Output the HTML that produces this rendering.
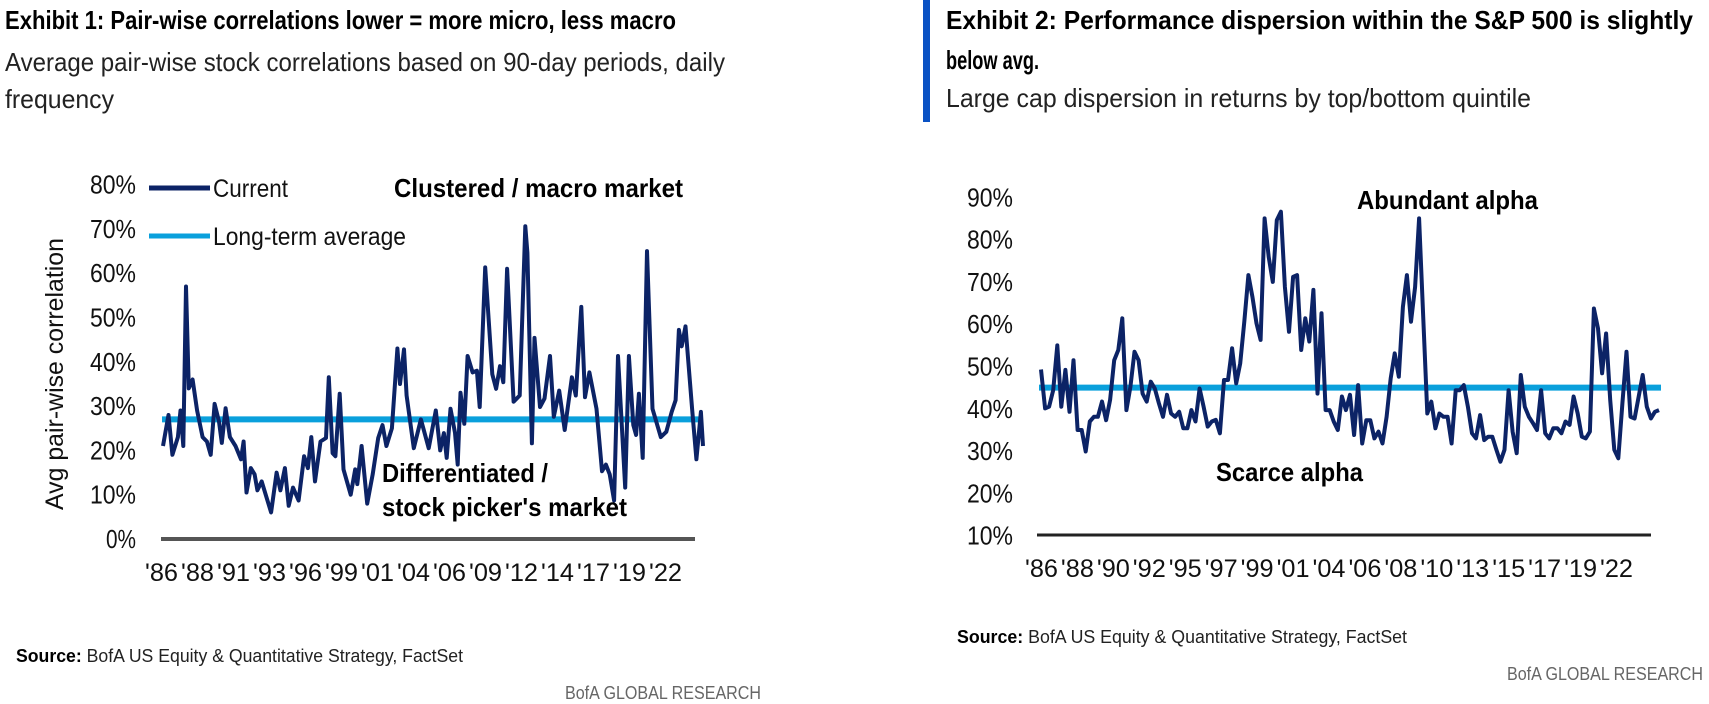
<!DOCTYPE html>
<html><head><meta charset="utf-8"><style>
html,body{margin:0;padding:0;background:#fff;width:1709px;height:704px;overflow:hidden}
svg{display:block;font-family:"Liberation Sans",Arial,sans-serif}
</style></head><body>
<svg id="root" width="1709" height="704" viewBox="0 0 1709 704">
<g>
<text x="5" y="29" font-size="26" font-weight="bold" textLength="671" lengthAdjust="spacingAndGlyphs" fill="#000">Exhibit 1: Pair-wise correlations lower = more micro, less macro</text>
<text x="5" y="71" font-size="26" textLength="720" lengthAdjust="spacingAndGlyphs" fill="#222">Average pair-wise stock correlations based on 90-day periods, daily</text>
<text x="5" y="108" font-size="26" textLength="109" lengthAdjust="spacingAndGlyphs" fill="#222">frequency</text>
</g>
<g>
<rect x="923" y="0" width="7" height="122" fill="#0a52c4"/>
<text x="946" y="29" font-size="26" font-weight="bold" textLength="747" lengthAdjust="spacingAndGlyphs" fill="#000">Exhibit 2: Performance dispersion within the S&amp;P 500 is slightly</text>
<text x="946" y="69" font-size="26" font-weight="bold" textLength="93" lengthAdjust="spacingAndGlyphs" fill="#000">below avg.</text>
<text x="946" y="107" font-size="26" textLength="585" lengthAdjust="spacingAndGlyphs" fill="#222">Large cap dispersion in returns by top/bottom quintile</text>
</g>
<g id="c1"></g>
<g id="c2"></g>
<text x="16" y="662" font-size="18" textLength="447" lengthAdjust="spacingAndGlyphs" fill="#222"><tspan font-weight="bold" fill="#000">Source:</tspan> BofA US Equity &amp; Quantitative Strategy, FactSet</text>
<text x="565" y="699" font-size="18" textLength="196" lengthAdjust="spacingAndGlyphs" fill="#666">BofA GLOBAL RESEARCH</text>
<text x="957" y="643" font-size="18" textLength="450" lengthAdjust="spacingAndGlyphs" fill="#222"><tspan font-weight="bold" fill="#000">Source:</tspan> BofA US Equity &amp; Quantitative Strategy, FactSet</text>
<text x="1507" y="680" font-size="18" textLength="196" lengthAdjust="spacingAndGlyphs" fill="#666">BofA GLOBAL RESEARCH</text>
</svg>
<script>
// ---- Chart 1 data ----
const c1Years = [1986.0,1986.39,1986.67,1987.06,1987.25,1987.45,1987.64,1987.84,1988.11,1988.43,1988.82,1989.13,1989.40,1989.68,1989.99,1990.19,1990.46,1990.77,1991.17,1991.56,1991.75,1991.95,1992.26,1992.53,1992.73,1993.04,1993.32,1993.71,1994.10,1994.37,1994.69,1994.96,1995.27,1995.67,1996.06,1996.33,1996.57,1996.84,1997.23,1997.62,1997.82,1998.09,1998.29,1998.60,1998.87,1999.38,1999.70,1999.85,2000.16,2000.56,2000.95,2001.34,2001.65,2001.93,2002.32,2002.71,2002.90,2003.18,2003.37,2003.88,2004.39,2004.94,2005.45,2005.76,2006.03,2006.23,2006.50,2006.82,2007.01,2007.21,2007.48,2007.72,2008.07,2008.38,2008.58,2008.97,2009.48,2009.75,2010.03,2010.26,2010.53,2011.00,2011.43,2011.83,2011.98,2012.30,2012.49,2012.88,2013.20,2013.59,2013.86,2014.25,2014.64,2015.15,2015.43,2015.82,2016.09,2016.40,2016.91,2017.30,2017.58,2017.85,2018.16,2018.44,2018.95,2019.22,2019.53,2019.73,2019.93,2020.20,2020.51,2020.90,2021.49,2021.88,2022.27,2022.55,2022.78,2022.98,2023.25,2023.72,2024.03,2024.35,2024.50];
const c1Values = [21,28,19,23,29,21,57,34,36,29,23,22,19,30.5,26.5,21.7,29.5,23,21,18,22,10.5,16,14.6,11,13,10,6,15,11,16,7.5,11.6,8.7,18.7,16,23,13,22,22.8,36.5,19.4,18.7,32.8,15.7,10,15.7,12.4,21,8,14.6,22.8,25.7,21,25,43,35,42.8,32.4,20.5,27,20.5,29,20,23.9,18.3,29.4,24,16.8,33,26,41.3,37.6,38,29.8,61.3,37.2,33.9,39,35.4,61,31,32.4,70.6,64.6,21.6,45.4,29.8,31.7,41.3,27.6,33.5,24.6,36.5,32.4,52.4,32,37.6,29.4,15.3,16.8,14.6,8.7,41.3,11.6,41.3,25.7,23.5,32.8,18.3,65,29.4,23,24.2,28.7,31.3,47.2,43.5,48,29.4,18,28.7,21];
const c1Average = [27];
const c1YTicks = [0,10,20,30,40,50,60,70,80];
const c1XLabels = ["'86","'88","'91","'93","'96","'99","'01","'04","'06","'09","'12","'14","'17","'19","'22"];
// ---- Chart 2 data (evenly spaced observations, 1986 to mid-2024) ----
const c2Values = [49.3,40.1,40.5,44.4,55,40.5,49.2,39.3,51.5,35,35,29.9,37,38.1,38.1,41.7,37.3,42.1,51.5,53.9,61.4,39.7,45.2,53.5,51.5,43.6,41.7,46.4,44.8,41.3,38.1,43.3,38.9,38.1,39.3,35.4,35.4,39.7,37,44.8,40.5,35.8,37,37.4,34.2,46.8,46.8,54.3,46,50.7,60.6,71.6,66.5,60.2,56.3,85,75.9,70,84.6,86.6,68.8,58.2,71.2,71.6,53.9,61.4,55.9,68.1,43.6,62.6,39.7,39.7,37,35,42.9,39.7,43.3,33.8,45.6,31.8,37.3,37.3,33,34.6,31.8,38.1,47.2,53.1,47.6,64.1,71.6,60.6,68.8,85,61.8,38.9,41.7,35.4,38.9,38.1,38.1,31.8,44.4,44.4,45.6,40.5,34.2,33,38.5,32.6,33.4,33.4,30.3,27.5,30.3,44.4,34.6,29.5,48,40.5,38.1,36.6,35,44.4,34.2,33,35.4,35.4,34.2,37,36.2,42.9,38.9,33.4,33,34.6,63.7,59,48.4,57.8,42.1,30.3,28.3,41.3,53.5,38.1,37.7,42.9,48,40.5,37.7,39.3,39.7];
const c2Start = [1986.0];
const c2End = [2024.5];
const c2Average = [45];
const c2YTicks = [10,20,30,40,50,60,70,80,90];
const c2XLabels = ["'86","'88","'90","'92","'95","'97","'99","'01","'04","'06","'08","'10","'13","'15","'17","'19","'22"];

const NS = "http://www.w3.org/2000/svg";
function mk(tag, attrs, parent){const e=document.createElementNS(NS,tag);for(const k in attrs)e.setAttribute(k,attrs[k]);parent.appendChild(e);return e;}

// ---------- Chart 1 ----------
(function(){
  const g = document.getElementById('c1');
  const x0=163,x1=703,yr0=1986,yr1=2024.5;
  const X = yr => x0+(yr-yr0)/(yr1-yr0)*(x1-x0);
  const Y = v => 539 - v*4.43;
  c1YTicks.forEach(t=>{
    const e=mk('text',{x:136,y:Y(t)+9,'font-size':26,'text-anchor':'end',fill:'#111',textLength:(t===0?30:46),lengthAdjust:'spacingAndGlyphs'},g);
    e.textContent=t+'%';
    
    
  });
  const ax=mk('line',{x1:161,x2:695,y1:539,y2:539,stroke:'#555','stroke-width':4},g);
  
  
  const step=(685-145)/c1XLabels.length;
  c1XLabels.forEach((l,i)=>{
    const e=mk('text',{x:145+i*step,y:581,'font-size':25,fill:'#111',textLength:step-3,lengthAdjust:'spacingAndGlyphs'},g);
    e.textContent=l;
    
    
  });
  const yt=mk('text',{x:0,y:0,'font-size':25,fill:'#111','text-anchor':'middle',textLength:272,lengthAdjust:'spacingAndGlyphs',transform:'translate(63,374) rotate(-90)'},g);
  yt.textContent='Avg pair-wise correlation';
  
  
  const avg=mk('line',{x1:162,x2:703,y1:Y(c1Average[0]),y2:Y(c1Average[0]),stroke:'#0aa0dc','stroke-width':6},g);
  
  
  const pts=c1Years.map((yr,i)=>X(yr).toFixed(1)+','+Y(c1Values[i]).toFixed(1)).join(' ');
  const pl=mk('polyline',{points:pts,fill:'none',stroke:'#0c2366','stroke-width':4,'stroke-linejoin':'round'},g);
  
  
  const l1=mk('line',{x1:149,x2:210,y1:188,y2:188,stroke:'#0c2366','stroke-width':5},g);
  
  
  const t1=mk('text',{x:213,y:197,'font-size':25,fill:'#111',textLength:75,lengthAdjust:'spacingAndGlyphs'},g);
  t1.textContent='Current';
  
  
  const l2=mk('line',{x1:149,x2:210,y1:236,y2:236,stroke:'#0aa0dc','stroke-width':5},g);
  
  
  const t2=mk('text',{x:213,y:245,'font-size':25,fill:'#111',textLength:193,lengthAdjust:'spacingAndGlyphs'},g);
  t2.textContent='Long-term average';
  
  
  const a1=mk('text',{x:394,y:197,'font-size':26,'font-weight':'bold',fill:'#000',textLength:289,lengthAdjust:'spacingAndGlyphs'},g);
  a1.textContent='Clustered / macro market';
  
  
  const a2=mk('text',{x:382,y:482,'font-size':26,'font-weight':'bold',fill:'#000',textLength:166,lengthAdjust:'spacingAndGlyphs'},g);
  a2.textContent='Differentiated /';
  
  
  const a3=mk('text',{x:382,y:516,'font-size':26,'font-weight':'bold',fill:'#000',textLength:245,lengthAdjust:'spacingAndGlyphs'},g);
  a3.textContent="stock picker's market";
  
  
})();

// ---------- Chart 2 ----------
(function(){
  const g = document.getElementById('c2');
  const x0=1041,x1=1659;
  const X = yr => x0+(yr-c2Start[0])/(c2End[0]-c2Start[0])*(x1-x0);
  const Y = v => 535.7-(v-10)*4.23;
  c2YTicks.forEach(t=>{
    const e=mk('text',{x:1013,y:Y(t)+9,'font-size':26,'text-anchor':'end',fill:'#111',textLength:46,lengthAdjust:'spacingAndGlyphs'},g);
    e.textContent=t+'%';
    
    
  });
  const ax=mk('line',{x1:1037,x2:1651,y1:535,y2:535,stroke:'#222','stroke-width':3},g);
  
  
  const step=(1636-1025)/c2XLabels.length;
  c2XLabels.forEach((l,i)=>{
    const e=mk('text',{x:1025+i*step,y:577,'font-size':25,fill:'#111',textLength:step-3,lengthAdjust:'spacingAndGlyphs'},g);
    e.textContent=l;
    
    
  });
  const avg=mk('line',{x1:1039,x2:1661,y1:Y(c2Average[0]),y2:Y(c2Average[0]),stroke:'#0aa0dc','stroke-width':6},g);
  
  
  const n=c2Values.length;
  const pts=c2Values.map((v,i)=>{const yr=c2Start[0]+i*(c2End[0]-c2Start[0])/(n-1);return X(yr).toFixed(1)+','+Y(v).toFixed(1);}).join(' ');
  const pl=mk('polyline',{points:pts,fill:'none',stroke:'#0c2366','stroke-width':4,'stroke-linejoin':'round'},g);
  
  
  const a1=mk('text',{x:1357,y:209,'font-size':26,'font-weight':'bold',fill:'#000',textLength:181,lengthAdjust:'spacingAndGlyphs'},g);
  a1.textContent='Abundant alpha';
  
  
  const a2=mk('text',{x:1216,y:481,'font-size':26,'font-weight':'bold',fill:'#000',textLength:147,lengthAdjust:'spacingAndGlyphs'},g);
  a2.textContent='Scarce alpha';
  
  
})();
</script>
</body></html>
